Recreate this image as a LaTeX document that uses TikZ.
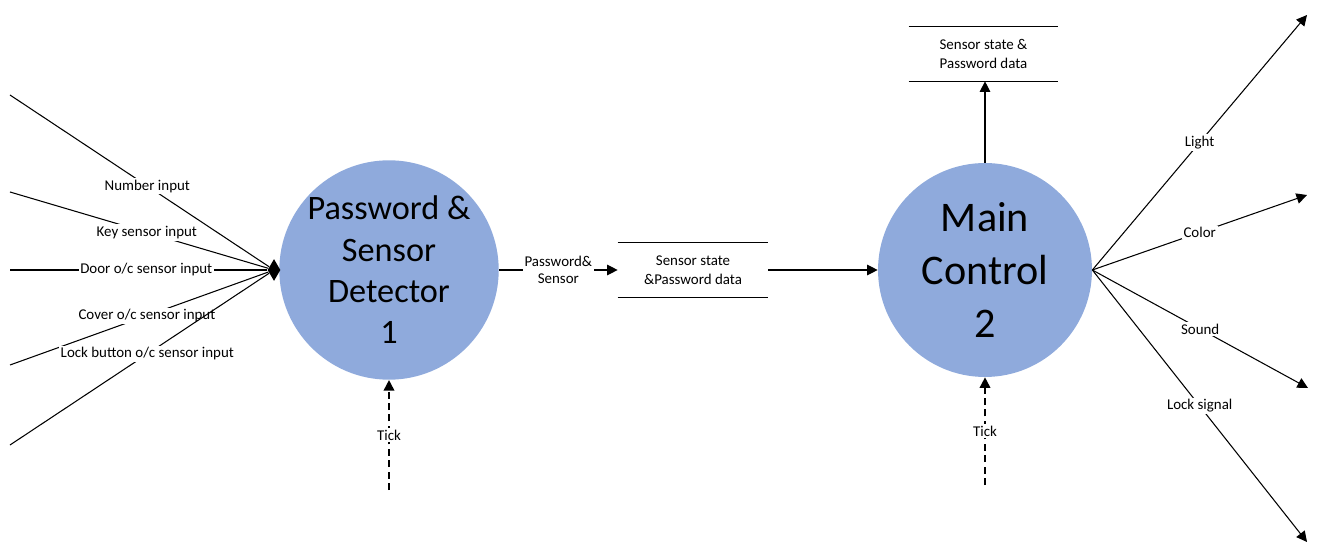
\documentclass[tikz,border=0pt]{standalone}
\usepackage{fontspec}
\setmainfont{Carlito}
\usetikzlibrary{arrows.meta,shapes.geometric}
\definecolor{procblue}{RGB}{143,170,220}
\begin{document}
\begin{tikzpicture}[x=0.02cm,y=-0.02cm,
 proc/.style={circle,fill=procblue,draw=none,minimum size=4.28cm,inner sep=0,align=center},
 lab/.style={fill=white,inner sep=1pt,font=\fontsize{8.5}{10}\selectfont,align=center},
 flow/.style={line width=0.6pt},
 arr/.style={flow,-{Triangle[length=6pt,width=6pt]}},
 tickflow/.style={line width=1pt,dash pattern=on 4pt off 2.5pt,-{Triangle[length=6pt,width=6pt]}},
 store/.style={minimum width=3cm,minimum height=1.08cm,inner sep=0,align=center,font=\fontsize{8.5}{10.5}\selectfont}]
\useasboundingbox (0,0) rectangle (1317,553);

% processes
\node[proc,font=\fontsize{19.5}{23.5}\selectfont] (c1) at (389,270) {Password \&\\Sensor\\Detector\\1};
\node[proc,font=\fontsize{24}{30}\selectfont] (c2) at (985,270) {Main\\Control\\2};

% junction diamond
\node[diamond,fill=black,minimum width=0.26cm,minimum height=0.44cm,inner sep=0] (dia) at (274,270) {};

% inputs
\coordinate (in1) at (10,95);
\coordinate (in2) at (10,192);
\coordinate (in3) at (10,270);
\coordinate (in4) at (10,365);
\coordinate (in5) at (10,445);
\draw[flow] (in1) -- node[lab,pos=0.53]{Number input} (dia);
\draw[flow] (in2) -- node[lab,pos=0.53]{Key sensor input} (dia);
\draw[flow] (in3) -- node[lab,pos=0.53]{Door o/c sensor input} (dia);
\draw[flow] (in4) -- node[lab,pos=0.53]{Cover o/c sensor input} (dia);
\draw[flow] (in5) -- node[lab,pos=0.53]{Lock button o/c sensor input} (dia);

% data stores
\node[store] (ds1) at (693,270) {Sensor state\\\&Password data};
\draw[flow] (ds1.north west) -- (ds1.north east);
\draw[flow] (ds1.south west) -- (ds1.south east);
\node[store,minimum width=2.98cm] (ds2) at (983.5,54) {Sensor state \&\\Password data};
\draw[flow] (ds2.north west) -- (ds2.north east);
\draw[flow] (ds2.south west) -- (ds2.south east);

% flows
\draw[arr] (c1) -- node[lab]{Password\&\\Sensor} (ds1);
\draw[arr] (ds1) -- (c2);
\draw[arr] (c2.north) -- (c2.north |- ds2.south);

% outputs
\coordinate (o1) at (1307,15);
\coordinate (o2) at (1307,195);
\coordinate (o3) at (1308,388);
\coordinate (o4) at (1307,542);
\draw[arr] (c2.east) -- node[lab]{Light} (o1);
\draw[arr] (c2.east) -- node[lab]{Color} (o2);
\draw[arr] (c2.east) -- node[lab]{Sound} (o3);
\draw[arr] (c2.east) -- node[lab]{Lock signal} (o4);

% ticks
\coordinate (t1) at (389,490);
\coordinate (t2) at (985,485);
\draw[tickflow] (t1) -- node[lab]{Tick} (c1.south);
\draw[tickflow] (t2) -- node[lab]{Tick} (c2.south);
\end{tikzpicture}
\end{document}
